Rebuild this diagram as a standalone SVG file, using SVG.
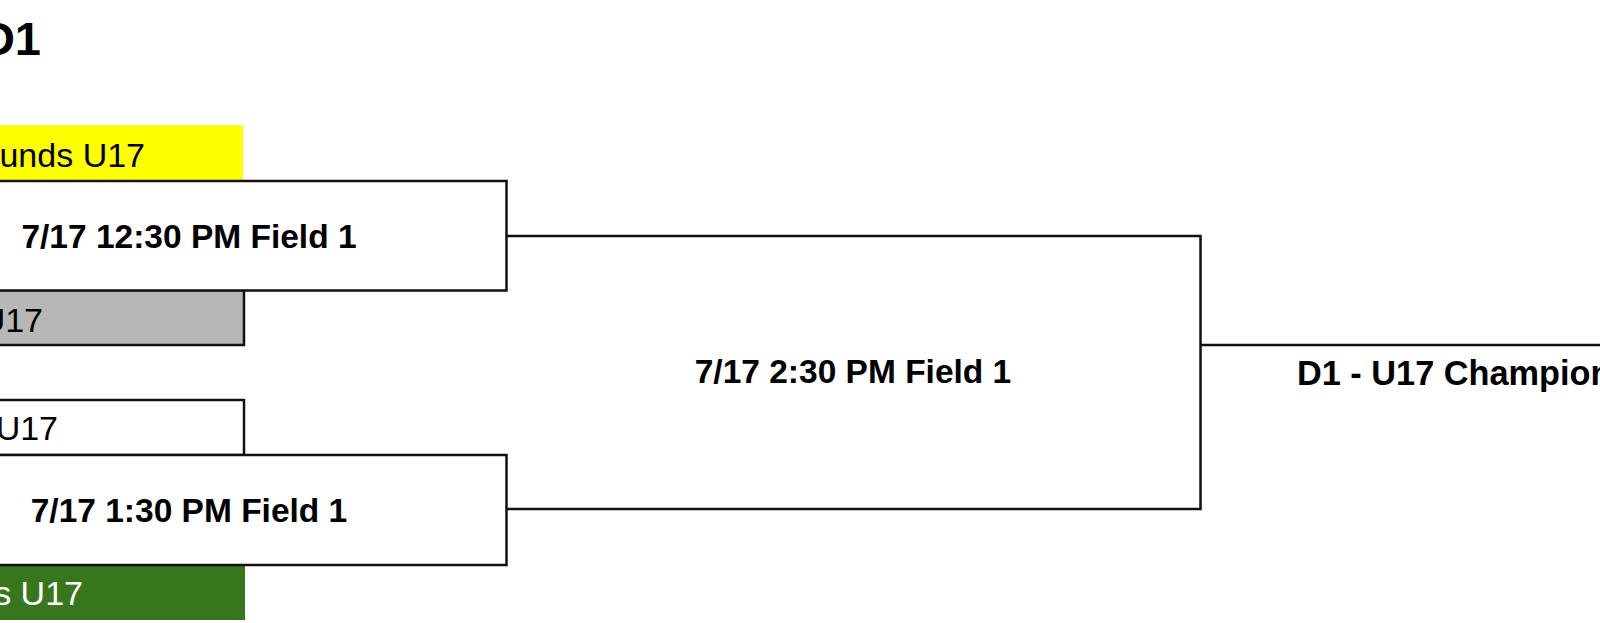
<svg xmlns="http://www.w3.org/2000/svg" width="1600" height="623" viewBox="0 0 1600 623">
<style>
.bg{fill:#ffffff}
.match{fill:#ffffff;stroke:#111111;stroke-width:2.5}
.team{font-family:"Liberation Sans",Arial,sans-serif;font-size:34px;fill:#000000}
.mt{font-family:"Liberation Sans",Arial,sans-serif;font-size:33.5px;font-weight:bold;fill:#000000}
.conn{fill:none;stroke:#111111;stroke-width:2.5}
</style>
<rect class="bg" x="0" y="0" width="1600" height="623"/>
<g id="title">
<text x="41" y="55" text-anchor="end" style="font-family:'Liberation Sans',Arial,sans-serif;font-size:47px;font-weight:bold;fill:#000">D1</text>
</g>
<g id="connectors">
<path class="conn" d="M506.5,236 H1200.5 V509 H506.5"/>
<path class="conn" d="M1200.5,345 H1600"/>
</g>
<g id="team1">
<rect x="-200" y="125" width="443" height="55" fill="#ffff00"/>
<text class="team" x="145" y="166.5" text-anchor="end">unds U17</text>
</g>
<g id="team2">
<rect x="-200" y="290" width="444" height="55" fill="#b7b7b7" stroke="#111111" stroke-width="2.5"/>
<text class="team" x="43" y="331.5" text-anchor="end">U17</text>
</g>
<g id="team3">
<rect x="-200" y="400" width="444" height="55" fill="#ffffff" stroke="#111111" stroke-width="2.5"/>
<text class="team" x="58" y="440" text-anchor="end">U17</text>
</g>
<g id="team4">
<rect x="-200" y="565" width="445" height="55" fill="#38761d"/>
<text class="team" x="83" y="605" text-anchor="end" style="fill:#ffffff">s U17</text>
</g>
<g id="match1">
<rect class="match" x="-128" y="181" width="634.5" height="109.5"/>
<text class="mt" x="189" y="248" text-anchor="middle">7/17 12:30 PM Field 1</text>
</g>
<g id="match2">
<rect class="match" x="-128" y="455" width="634.5" height="110"/>
<text class="mt" x="189" y="522" text-anchor="middle">7/17 1:30 PM Field 1</text>
</g>
<g id="match3">
<text class="mt" x="853" y="383" text-anchor="middle">7/17 2:30 PM Field 1</text>
</g>
<g id="final">
<text class="mt" x="1297" y="384.5" style="font-size:34.3px">D1 - U17 Champion</text>
</g>
</svg>
